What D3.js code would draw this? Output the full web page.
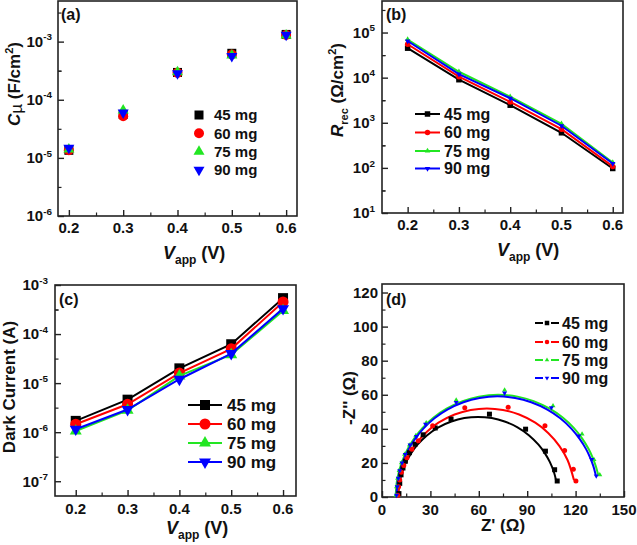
<!DOCTYPE html>
<html><head><meta charset="utf-8">
<script src="https://cdn.jsdelivr.net/npm/d3@7"></script>
<style>
html,body{margin:0;padding:0;background:#fff;}
svg text{font-family:"Liberation Sans",Arial,sans-serif;font-weight:bold;fill:#111;}
</style></head>
<body><svg id="c" width="637" height="545"></svg>
<script>
// ---------- DATA ----------
const seriesNames = ["45 mg", "60 mg", "75 mg", "90 mg"];
const seriesColors = ["#000000", "#ff0000", "#22e622", "#0000ff"];
const seriesShapes = ["square", "circle", "triangle", "triangleDown"];

const vapp = [0.2, 0.3, 0.4, 0.5, 0.6];
const vTicks = [0.2, 0.3, 0.4, 0.5, 0.6];

// (a) chemical capacitance (F/cm2)
const cmu45 = [1.35e-5, 5.6e-5, 2.95e-4, 6.3e-4, 1.33e-3];
const cmu60 = [1.35e-5, 5.2e-5, 2.9e-4, 6.0e-4, 1.30e-3];
const cmu75 = [1.40e-5, 6.6e-5, 3.0e-4, 5.8e-4, 1.28e-3];
const cmu90 = [1.48e-5, 6.0e-5, 2.85e-4, 5.6e-4, 1.30e-3];

// (b) recombination resistance (Ohm/cm2)
const rrec45 = [4.5e4, 9.0e3, 2.45e3, 600, 97];
const rrec60 = [5.5e4, 1.05e4, 2.9e3, 720, 108];
const rrec75 = [7.0e4, 1.35e4, 3.8e3, 950, 132];
const rrec90 = [6.5e4, 1.2e4, 3.5e3, 860, 125];

// (c) dark current (A)
const dark45 = [1.7e-6, 4.6e-6, 2.0e-5, 6.2e-5, 5.4e-4];
const dark60 = [1.45e-6, 3.7e-6, 1.6e-5, 5.0e-5, 4.5e-4];
const dark75 = [1.05e-6, 2.8e-6, 1.4e-5, 3.8e-5, 3.0e-4];
const dark90 = [1.15e-6, 2.9e-6, 1.2e-5, 4.0e-5, 3.3e-4];

// (d) Nyquist measured points
const zre45 = [10.5, 11, 11.8, 13, 14.5, 17, 20.5, 25.5, 33, 42.8, 66.6, 89, 101.3, 107, 108.6];
const zim45 = [2, 8, 13, 17, 21, 26, 31, 36.5, 40.5, 45.7, 48.6, 39.8, 26.9, 16, 9.4];
const zre60 = [9.8, 10.3, 11, 12, 13.5, 15.5, 18.5, 22.5, 31.4, 51.3, 78.2, 101, 113.2, 118.6, 120.2];
const zim60 = [1, 6, 10, 14.5, 18.5, 23, 28, 33, 41.8, 52.4, 52.7, 41.8, 27.3, 16.3, 9.4];
const zre75 = [8.6, 9, 9.7, 10.6, 12, 14, 17, 21, 27.4, 46, 76, 106, 124, 131.4, 135];
const zim75 = [1, 6, 11, 15.5, 20, 25, 30.5, 36, 43.5, 56.9, 62.7, 53.5, 36.9, 22, 13];
const zre90 = [9, 9.4, 10.1, 11, 12.4, 14.4, 17.4, 21.4, 27, 46, 76, 105, 122, 130, 132.8];
const zim90 = [1, 6, 11, 15.5, 20, 25, 30.5, 35.5, 42.7, 55.5, 61, 52.4, 35.9, 22, 12.4];

// (d) fitted curves
const fitRe45 = [10, 10.5, 11.5, 13, 15, 18, 22, 28, 35, 43, 51, 59.5, 68, 76, 84, 91, 97, 101, 104, 106.5, 108];
const fitIm45 = [0, 6.7, 11.5, 16.1, 20.6, 25.6, 30.7, 36.3, 40.9, 44.3, 46.3, 47.0, 46.3, 44.3, 40.9, 36.3, 30.7, 25.6, 20.6, 14.8, 9.4];
const fitRe60 = [10, 10.5, 11.5, 13, 15, 18, 22, 28, 35, 45, 55, 65, 75, 85, 95, 103, 110, 115, 119];
const fitIm60 = [0, 7.0, 12.1, 16.9, 21.7, 27, 32.4, 38.5, 43.6, 48.4, 51.1, 52, 51.1, 48.4, 43.6, 37.6, 29.9, 21.7, 9.9];
const fitRe75 = [8.5, 9, 10, 11.5, 13.5, 16, 20, 25, 32, 40, 50, 60, 72, 84, 94, 104, 112, 119, 124, 128, 130.5, 132.5, 134];
const fitIm75 = [0, 7.5, 13.0, 18.2, 23.3, 28.3, 34.4, 40.4, 46.6, 51.8, 56.3, 58.9, 60.0, 58.9, 56.3, 51.8, 46.6, 40.4, 34.4, 28.3, 23.3, 18.2, 13.0];
const fitRe90 = [9, 9.5, 10.5, 12, 14, 16.5, 20.5, 25.5, 32.5, 40.5, 50.5, 60.5, 71.5, 82.5, 92.5, 102.5, 110.5, 117.5, 122.5, 126.5, 129, 131, 132.5];
const fitIm90 = [0, 7.5, 12.9, 18.1, 23.1, 28.1, 34.1, 40.0, 46.2, 51.3, 55.6, 58.1, 59.1, 58.1, 55.6, 51.3, 46.2, 40.0, 34.1, 28.1, 23.1, 18.1, 12.9];

// axis tick values
const logTicksA = [1e-6, 1e-5, 1e-4, 1e-3];
const logTicksB = [1e1, 1e2, 1e3, 1e4, 1e5];
const logTicksC = [1e-7, 1e-6, 1e-5, 1e-4, 1e-3];
const zreTicks = [0, 30, 60, 90, 120, 150];
const zimTicks = [0, 20, 40, 60, 80, 100, 120];

// ---------- DRAWING ----------
const svg = d3.select("#c");
const FONT = '"Liberation Sans",Arial,sans-serif';

function symbolFor(shape) {
  return {square: d3.symbolSquare, circle: d3.symbolCircle, triangle: d3.symbolTriangle, triangleDown: d3.symbolTriangle}[shape];
}
function drawMarker(g, shape, cx, cy, size, color) {
  // size = approx width in px
  let area;
  if (shape === "square") area = size * size;
  else if (shape === "circle") area = Math.PI * size * size / 4;
  else area = size * size * Math.sqrt(3) / 4 * 1.0;
  const p = g.append("path")
    .attr("d", d3.symbol().type(symbolFor(shape)).size(area)())
    .attr("fill", color);
  if (shape === "triangleDown") p.attr("transform", `translate(${cx},${cy}) rotate(180)`);
  else p.attr("transform", `translate(${cx},${cy})`);
}

function frame(g, x0, x1, y0, y1) {
  g.append("rect").attr("x", x0).attr("y", y0).attr("width", x1 - x0).attr("height", y1 - y0)
    .attr("fill", "none").attr("stroke", "#222").attr("stroke-width", 1.6);
}

function xAxis(g, x, y1, major, minor, fmt, labelY, fs) {
  const ax = g.append("g").attr("transform", `translate(0,${y1})`)
    .call(d3.axisBottom(x).tickValues(major).tickSize(-6).tickFormat(""));
  ax.select(".domain").remove();
  ax.selectAll("line").attr("stroke", "#222").attr("stroke-width", 1.4);
  const ax2 = g.append("g").attr("transform", `translate(0,${y1})`)
    .call(d3.axisBottom(x).tickValues(minor).tickSize(-3.5).tickFormat(""));
  ax2.select(".domain").remove();
  ax2.selectAll("line").attr("stroke", "#222").attr("stroke-width", 1.2);
  major.forEach(v => {
    g.append("text").attr("x", x(v)).attr("y", labelY).attr("text-anchor", "middle")
      .attr("font-size", fs).text(fmt(v));
  });
}

function yAxisLin(g, y, x0, major, minor, labelX, fs) {
  const ax = g.append("g").attr("transform", `translate(${x0},0)`)
    .call(d3.axisLeft(y).tickValues(major).tickSize(-6).tickFormat(""));
  ax.select(".domain").remove();
  ax.selectAll("line").attr("stroke", "#222").attr("stroke-width", 1.4);
  const ax2 = g.append("g").attr("transform", `translate(${x0},0)`)
    .call(d3.axisLeft(y).tickValues(minor).tickSize(-3.5).tickFormat(""));
  ax2.select(".domain").remove();
  ax2.selectAll("line").attr("stroke", "#222").attr("stroke-width", 1.2);
  major.forEach(v => {
    g.append("text").attr("x", labelX).attr("y", y(v)).attr("dy", "0.36em").attr("text-anchor", "end")
      .attr("font-size", fs).text(v);
  });
}

function yAxisLog(g, y, x0, major, minor, labelX, fs) {
  const ax = g.append("g").attr("transform", `translate(${x0},0)`)
    .call(d3.axisLeft(y).tickValues(major).tickSize(-6).tickFormat(""));
  ax.select(".domain").remove();
  ax.selectAll("line").attr("stroke", "#222").attr("stroke-width", 1.4);
  const ax2 = g.append("g").attr("transform", `translate(${x0},0)`)
    .call(d3.axisLeft(y).tickValues(minor).tickSize(-3.5).tickFormat(""));
  ax2.select(".domain").remove();
  ax2.selectAll("line").attr("stroke", "#222").attr("stroke-width", 1.2);
  major.forEach(v => {
    const e = Math.round(Math.log10(v));
    const t = g.append("text").attr("x", labelX).attr("y", y(v)).attr("dy", "0.36em").attr("text-anchor", "end")
      .attr("font-size", fs);
    t.append("tspan").text("10");
    t.append("tspan").attr("font-size", fs * 0.66).attr("dy", -fs * 0.45).text(String(e));
  });
}

function halfDecades(ticks, lo, hi) {
  const out = [];
  ticks.forEach(t => { const m = t * Math.sqrt(10); if (m > lo && m < hi) out.push(m); const n = t / Math.sqrt(10); if (n > lo && n < hi && !out.includes(n)) out.push(n); });
  return out;
}

function vTitle(g, x, y) {
  const t = g.append("text").attr("x", x).attr("y", y).attr("font-size", 18);
  t.append("tspan").attr("font-style", "italic").text("V");
  t.append("tspan").attr("font-size", 12).attr("dy", 5).text("app");
  t.append("tspan").attr("dy", -5).text(" (V)");
}

const vFmt = d => d.toFixed(1);
const vMinor = [0.25, 0.35, 0.45, 0.55];

// ===== Panel (a) =====
{
  const g = svg.append("g");
  const X0 = 58, X1 = 297, Y0 = 1, Y1 = 216;
  const x = d3.scaleLinear().domain([0.18, 0.62]).range([X0, X1]);
  const y = d3.scaleLog().domain([1e-6, 5e-3]).range([Y1, Y0]);
  frame(g, X0, X1, Y0, Y1);
  xAxis(g, x, Y1, vTicks, vMinor, vFmt, 233, 15);
  yAxisLog(g, y, X0, logTicksA, halfDecades(logTicksA, 1e-6, 5e-3), X0 - 6, 15);
  const sets = [cmu45, cmu60, cmu75, cmu90];
  const sizes = [9, 10, 11, 11];
  sets.forEach((arr, i) => {
    arr.forEach((v, j) => drawMarker(g, seriesShapes[i], x(vapp[j]), y(v), sizes[i], seriesColors[i]));
  });
  const legY = [115, 133.3, 151.6, 170];
  seriesNames.forEach((n, i) => {
    drawMarker(g, seriesShapes[i], 199, legY[i], sizes[i], seriesColors[i]);
    g.append("text").attr("x", 214).attr("y", legY[i]).attr("dy", "0.36em").attr("font-size", 15).text(n);
  });
  g.append("text").attr("x", 61).attr("y", 20).attr("font-size", 16).text("(a)");
  vTitle(g, 163, 259);
  const yt = g.append("text").attr("transform", "translate(20,84) rotate(-90)").attr("text-anchor", "middle").attr("font-size", 17);
  yt.append("tspan").attr("font-style", "italic").text("C");
  yt.append("tspan").attr("font-weight", "normal").attr("dy", 2).text("\u00b5");
  yt.append("tspan").attr("dy", -2).text(" (F/cm");
  yt.append("tspan").attr("font-size", 11).attr("dy", -7).text("2");
  yt.append("tspan").attr("dy", 7).text(")");
}

// ===== Panel (b) =====
{
  const g = svg.append("g");
  const X0 = 382, X1 = 623, Y0 = 1, Y1 = 213;
  const x = d3.scaleLinear().domain([0.15, 0.62]).range([X0, X1]);
  const y = d3.scaleLog().domain([10, 5e5]).range([Y1, Y0]);
  frame(g, X0, X1, Y0, Y1);
  xAxis(g, x, Y1, vTicks, [0.15, 0.25, 0.35, 0.45, 0.55].filter(v => v > 0.151), vFmt, 230, 15);
  yAxisLog(g, y, X0, logTicksB, halfDecades(logTicksB, 10, 5e5), X0 - 7, 15);
  const sets = [rrec45, rrec60, rrec75, rrec90];
  const line = d3.line().x((d, j) => x(vapp[j])).y(d => y(d));
  sets.forEach((arr, i) => {
    g.append("path").attr("d", line(arr)).attr("fill", "none").attr("stroke", seriesColors[i]).attr("stroke-width", 2);
    arr.forEach((v, j) => drawMarker(g, seriesShapes[i], x(vapp[j]), y(v), 5.5, seriesColors[i]));
  });
  const legY = [114, 132.5, 151, 168.5];
  seriesNames.forEach((n, i) => {
    g.append("line").attr("x1", 415).attr("x2", 440).attr("y1", legY[i]).attr("y2", legY[i]).attr("stroke", seriesColors[i]).attr("stroke-width", 2);
    drawMarker(g, seriesShapes[i], 427.5, legY[i], 5.5, seriesColors[i]);
    g.append("text").attr("x", 444).attr("y", legY[i]).attr("dy", "0.36em").attr("font-size", 16).text(n);
  });
  g.append("text").attr("x", 386).attr("y", 20).attr("font-size", 16).text("(b)");
  vTitle(g, 497, 256);
  const yt = g.append("text").attr("transform", "translate(343,90) rotate(-90)").attr("text-anchor", "middle").attr("font-size", 17);
  yt.append("tspan").attr("font-style", "italic").text("R");
  yt.append("tspan").attr("font-size", 11).attr("dy", 5).text("rec");
  yt.append("tspan").attr("dy", -5).text(" (\u03a9/cm");
  yt.append("tspan").attr("font-size", 11).attr("dy", -7).text("2");
  yt.append("tspan").attr("dy", 7).text(")");
}

// ===== Panel (c) =====
{
  const g = svg.append("g");
  const X0 = 55, X1 = 296, Y0 = 285, Y1 = 496;
  const x = d3.scaleLinear().domain([0.16, 0.625]).range([X0, X1]);
  const y = d3.scaleLog().domain([5e-8, 1e-3]).range([Y1, Y0]);
  frame(g, X0, X1, Y0, Y1);
  xAxis(g, x, Y1, vTicks, vMinor, vFmt, 514, 15);
  yAxisLog(g, y, X0, logTicksC, halfDecades(logTicksC, 5e-8, 1e-3), X0 - 7, 15);
  const sets = [dark45, dark60, dark75, dark90];
  const sizes = [10, 11, 12, 12];
  const line = d3.line().x((d, j) => x(vapp[j])).y(d => y(d));
  sets.forEach((arr, i) => {
    g.append("path").attr("d", line(arr)).attr("fill", "none").attr("stroke", seriesColors[i]).attr("stroke-width", 2);
    arr.forEach((v, j) => drawMarker(g, seriesShapes[i], x(vapp[j]), y(v), sizes[i], seriesColors[i]));
  });
  const legY = [405, 424, 443, 462];
  seriesNames.forEach((n, i) => {
    g.append("line").attr("x1", 188).attr("x2", 222).attr("y1", legY[i]).attr("y2", legY[i]).attr("stroke", seriesColors[i]).attr("stroke-width", 2);
    drawMarker(g, seriesShapes[i], 205, legY[i], sizes[i], seriesColors[i]);
    g.append("text").attr("x", 227).attr("y", legY[i]).attr("dy", "0.36em").attr("font-size", 17).text(n);
  });
  g.append("text").attr("x", 59).attr("y", 305).attr("font-size", 16).text("(c)");
  vTitle(g, 166, 534);
  g.append("text").attr("transform", "translate(15,387) rotate(-90)").attr("text-anchor", "middle").attr("font-size", 17).text("Dark Current (A)");
}

// ===== Panel (d) =====
{
  const g = svg.append("g");
  const X0 = 382, X1 = 624, Y0 = 284, Y1 = 497;
  const x = d3.scaleLinear().domain([0, 150]).range([X0, X1]);
  const y = d3.scaleLinear().domain([0, 125]).range([Y1, Y0]);
  frame(g, X0, X1, Y0, Y1);
  xAxis(g, x, Y1, zreTicks, [15, 45, 75, 105, 135], d => d, 515, 15);
  yAxisLin(g, y, X0, zimTicks, [10, 30, 50, 70, 90, 110], X0 - 4, 15);
  const pts = [[zre45, zim45], [zre60, zim60], [zre75, zim75], [zre90, zim90]];
  const fits = [[fitRe45, fitIm45], [fitRe60, fitIm60], [fitRe75, fitIm75], [fitRe90, fitIm90]];
  fits.forEach((f, i) => {
    const line = d3.line().x((d, j) => x(f[0][j])).y(d => y(d)).curve(d3.curveCatmullRom);
    g.append("path").attr("d", line(f[1])).attr("fill", "none").attr("stroke", seriesColors[i]).attr("stroke-width", 2);
  });
  pts.forEach((p, i) => {
    p[0].forEach((v, j) => drawMarker(g, seriesShapes[i], x(v), y(p[1][j]), 5, seriesColors[i]));
  });
  const legY = [323, 342, 360, 378];
  seriesNames.forEach((n, i) => {
    g.append("line").attr("x1", 535).attr("x2", 559).attr("y1", legY[i]).attr("y2", legY[i]).attr("stroke", seriesColors[i]).attr("stroke-width", 2);
    g.append("line").attr("x1", 543).attr("x2", 551).attr("y1", legY[i]).attr("y2", legY[i]).attr("stroke", "#fff").attr("stroke-width", 3);
    drawMarker(g, seriesShapes[i], 547, legY[i], 4.5, seriesColors[i]);
    g.append("text").attr("x", 562).attr("y", legY[i]).attr("dy", "0.36em").attr("font-size", 16).text(n);
  });
  g.append("text").attr("x", 386).attr("y", 305).attr("font-size", 16).text("(d)");
  g.append("text").attr("x", 503).attr("y", 531).attr("text-anchor", "middle").attr("font-size", 17).text("Z' (\u03a9)");
  g.append("text").attr("transform", "translate(355,398) rotate(-90)").attr("text-anchor", "middle").attr("font-size", 17).text("-Z'' (\u03a9)");
}
</script></body></html>
